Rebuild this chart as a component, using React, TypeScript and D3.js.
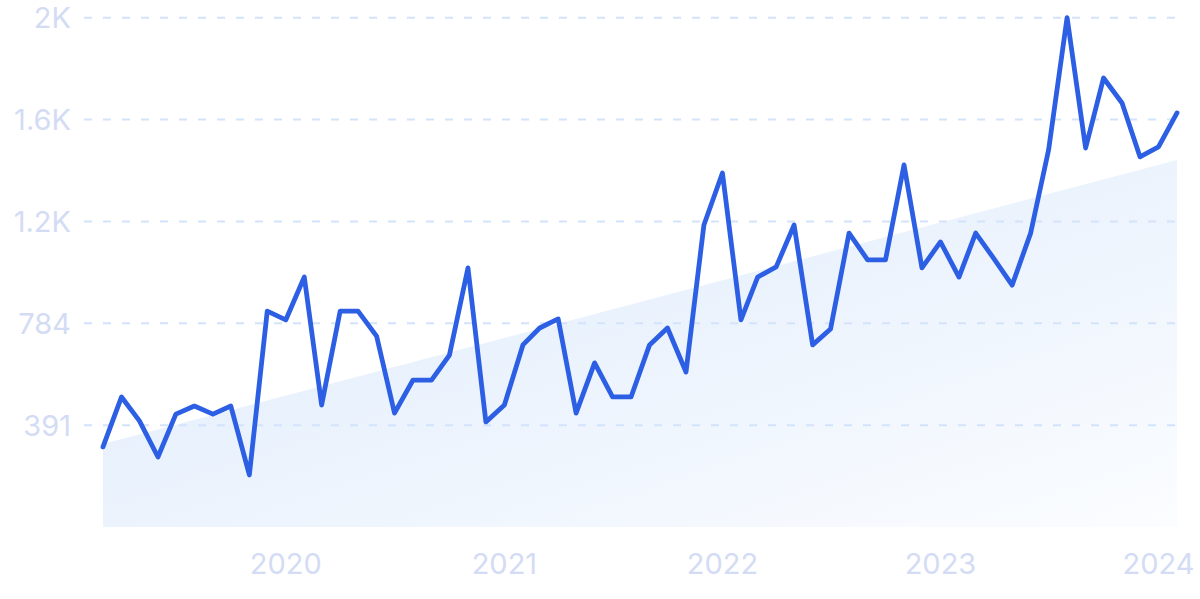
import React from "react";
import * as d3 from "d3";

const startMonth = "2019-03";
const values: number[] = [
  308, 500, 408, 269, 434, 465, 434, 465, 200, 830,
  796, 961, 469, 830, 830, 734, 438, 565, 565, 661,
  996, 404, 469, 700, 765, 800, 438, 631, 500, 500,
  700, 765, 596, 1161, 1361, 796, 961, 1000, 1161, 700,
  761, 1130, 1027, 1027, 1392, 996, 1096, 961, 1130, 1030,
  930, 1130, 1449, 1958, 1457, 1726, 1630, 1423, 1461, 1592,
];
const trendValues: number[] = [319, 1411];
const yMax = 1958;
const yTickValues: number[] = [391.6, 783.2, 1174.8, 1566.4, 1958];
const yTickLabels: string[] = ["391", "784", "1.2K", "1.6K", "2K"];
const xTickYears: number[] = [2020, 2021, 2022, 2023, 2024];

const W = 1200;
const H = 599;

export default function App() {
  const parse = d3.timeParse("%Y-%m");
  const start = parse(startMonth) as Date;
  const dates = values.map((_, i) => d3.timeMonth.offset(start, i));
  const data = values.map((v, i) => ({ d: dates[i], v }));

  const x = d3
    .scaleTime()
    .domain([dates[0], dates[dates.length - 1]])
    .range([103, 1177]);
  const y = d3.scaleLinear().domain([0, yMax]).range([527, 17.7]);

  const line = d3
    .line<{ d: Date; v: number }>()
    .x((p) => x(p.d))
    .y((p) => y(p.v))
    .curve(d3.curveLinear);

  const trendData = [
    { d: dates[0], v: trendValues[0] },
    { d: dates[dates.length - 1], v: trendValues[1] },
  ];
  const area = d3
    .area<{ d: Date; v: number }>()
    .x((p) => x(p.d))
    .y0(y(0))
    .y1((p) => y(p.v));

  const font = "Inter, 'Noto Sans', sans-serif";
  const labelColor = "#d3dcf4";

  return (
    <svg
      width={W}
      height={H}
      style={{ position: "absolute", left: 0, top: 0, background: "#ffffff" }}
    >
      <defs>
        <linearGradient id="areaGrad" x1="0" y1="0" x2="1" y2="1">
          <stop offset="0%" stopColor="#dce9fb" />
          <stop offset="100%" stopColor="#fbfdff" />
        </linearGradient>
      </defs>
      <path d={area(trendData) as string} fill="url(#areaGrad)" />
      {yTickValues.map((t, i) => (
        <g key={i}>
          <line
            x1={84}
            x2={1177}
            y1={y(t)}
            y2={y(t)}
            stroke="#d3e3fc"
            strokeWidth={2}
            strokeDasharray="8 11"
          />
          <text
            x={71}
            y={y(t)}
            dy="0.36em"
            textAnchor="end"
            fill={labelColor}
            fontFamily={font}
            fontSize={29}
          >
            {yTickLabels[i]}
          </text>
        </g>
      ))}
      {xTickYears.map((yr) => (
        <text
          key={yr}
          x={x(new Date(yr, 0, 1))}
          y={574}
          textAnchor="middle"
          fill={labelColor}
          fontFamily={font}
          fontSize={29}
        >
          {yr}
        </text>
      ))}
      <path
        d={line(data) as string}
        fill="none"
        stroke="#2d5fe4"
        strokeWidth={4.8}
        strokeLinejoin="round"
        strokeLinecap="round"
      />
    </svg>
  );
}
